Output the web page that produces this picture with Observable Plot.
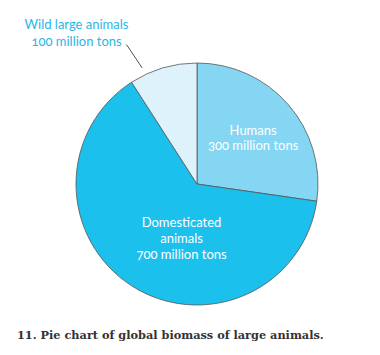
<!DOCTYPE html>
<html><head><meta charset="utf-8">
<script src="https://cdn.jsdelivr.net/npm/d3@7"></script>
<script src="https://cdn.jsdelivr.net/npm/@observablehq/plot@0.6"></script>
<style>
body{margin:0;background:#fff;}
#chart svg{font-variant-numeric:oldstyle-nums;}
#cap{font-family:"DejaVu Serif",serif;font-weight:bold;font-size:11.3px;color:#333;margin:12px 0 0 17px;line-height:16px;white-space:nowrap;}
</style></head><body>
<div id="chart"></div>
<div id="cap">11. Pie chart of global biomass of large animals.</div>
<script>
// Data
const categories = ["Humans", "Domesticated animals", "Wild large animals"];
const values = [300, 700, 100]; // million tons
const labelNames = ["Humans", "Domesticated\nanimals", "Wild large animals"];
const valueLabels = ["300 million tons", "700 million tons", "100 million tons"];

// Styles / layout (kept separate from data)
const colors = ["#84d6f3", "#1cc0ed", "#def2fb"];
const textColors = ["#ffffff", "#ffffff", "#29b6e6"];
const labelPolar = [ {a: 50, r: 0.60}, {a: 196.8, r: 0.457}, {a: 321.5, r: 1.606} ];
const lineHeights = [1.16, 1.23, 1.3];
const leader = {a1: -25.4, r1: 1.067, a2: -26.9, r2: 1.297};

const rows = categories.map((c, i) => ({category: c, value: values[i], color: colors[i]}));
const arcs = d3.pie().sort(null).value(d => d.value)(rows);

const rad = a => a * Math.PI / 180;
const labels = categories.map((c, i) => ({
  text: labelNames[i] + "\n" + valueLabels[i],
  x: labelPolar[i].r * Math.sin(rad(labelPolar[i].a)),
  y: labelPolar[i].r * Math.cos(rad(labelPolar[i].a)),
  fill: textColors[i], lh: lineHeights[i]
}));
const leaderLine = [{
  x1: leader.r1 * Math.sin(rad(leader.a1)), y1: leader.r1 * Math.cos(rad(leader.a1)),
  x2: leader.r2 * Math.sin(rad(leader.a2)), y2: leader.r2 * Math.cos(rad(leader.a2))
}];

function pieMark(index, scales) {
  const cx = scales.x(0), cy = scales.y(0), r = scales.x(1) - scales.x(0);
  const arc = d3.arc().innerRadius(0).outerRadius(r);
  const g = d3.create("svg:g").attr("transform", `translate(${cx},${cy})`);
  g.selectAll("path").data(arcs).join("path")
    .attr("d", arc).attr("fill", d => d.data.color)
    .attr("stroke", "#555").attr("stroke-width", 0.8).attr("stroke-linejoin", "round");
  return g.node();
}

const R = 121, CX = 197, CY = 184, W = 380, H = 315;
const chart = Plot.plot({
  width: W, height: H,
  margin: 0,
  x: {type: "linear", domain: [-CX / R, (W - CX) / R], range: [0, W], axis: null},
  y: {type: "linear", domain: [(CY - H) / R, CY / R], range: [H, 0], axis: null},
  style: {fontFamily: "Lato, 'Open Sans', sans-serif", background: "#fff"},
  marks: [
    pieMark,
    Plot.link(leaderLine, {x1: "x1", y1: "y1", x2: "x2", y2: "y2", stroke: "#555", strokeWidth: 1}),
    ...labels.map(l => Plot.text([l], {x: "x", y: "y", text: "text", fill: l.fill, fontSize: 13, lineHeight: l.lh, textAnchor: "middle"}))
  ]
});
document.getElementById("chart").appendChild(chart);
</script>
</body></html>
